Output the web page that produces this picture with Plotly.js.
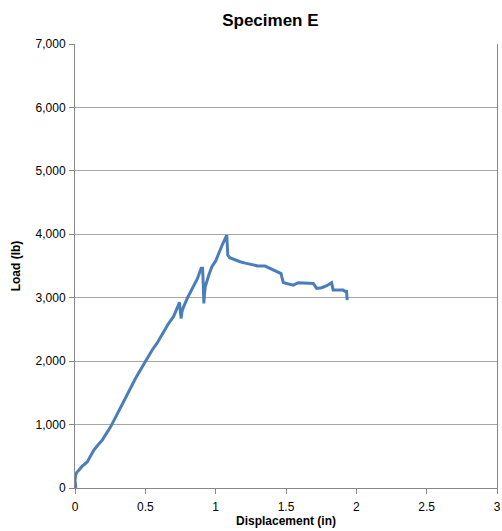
<!DOCTYPE html>
<html>
<head>
<meta charset="utf-8">
<script src="https://cdn.plot.ly/plotly-3.0.1.min.js"></script>
<style>html,body{margin:0;padding:0;background:#fff;}#chart{width:502px;height:531px;}</style>
</head>
<body>
<div id="chart"></div>
<script>
const displacement = [0.006,0.002,0.0,0.004,0.012,0.027,0.05,0.087,0.11,0.133,0.16,0.193,0.22,0.252,0.287,0.323,0.35,0.394,0.43,0.47,0.512,0.55,0.582,0.62,0.665,0.70,0.725,0.743,0.748,0.755,0.760,0.772,0.80,0.843,0.87,0.897,0.907,0.912,0.916,0.920,0.926,0.95,0.973,1.00,1.020,1.05,1.079,1.083,1.086,1.10,1.126,1.15,1.174,1.21,1.245,1.27,1.30,1.351,1.38,1.410,1.44,1.465,1.470,1.481,1.52,1.552,1.587,1.64,1.694,1.718,1.753,1.79,1.812,1.824,1.835,1.88,1.906,1.926,1.930,1.935];
const load = [0,43,121,200,245,279,340,410,500,595,670,753,850,960,1110,1265,1380,1580,1725,1880,2042,2180,2279,2420,2594,2700,2820,2926,2800,2673,2780,2857,3000,3199,3300,3463,3463,3200,2910,3050,3173,3350,3488,3580,3699,3850,3988,3800,3673,3630,3604,3585,3567,3545,3525,3510,3500,3499,3470,3436,3400,3380,3330,3241,3215,3199,3236,3225,3225,3147,3157,3190,3225,3236,3120,3120,3120,3094,3120,2962];
const xTicks = [0,0.5,1,1.5,2,2.5,3];
const yTicks = [0,1000,2000,3000,4000,5000,6000,7000];
const xTitle = 'Displacement (in)';

const trace = {
  x: displacement, y: load, type: 'scatter', mode: 'lines',
  line: {color: '#4A7EBB', width: 3}, hoverinfo: 'none'
};
const fam = 'Liberation Sans, Arial, sans-serif';
const layout = {
  width: 502, height: 531,
  margin: {l: 74.5, r: 5, t: 44, b: 43.3},
  paper_bgcolor: '#fff', plot_bgcolor: '#fff',
  showlegend: false,
  font: {family: fam, color: '#000', size: 12},
  title: {text: '<b>Specimen E</b>', font: {family: fam, size: 17, color: '#000'},
          x: 0.463, xref: 'paper', xanchor: 'center', y: 0.962, yref: 'container', yanchor: 'middle'},
  xaxis: {
    range: [0, 3], tickvals: xTicks, ticktext: xTicks.map(String),
    showgrid: false, zeroline: false, showline: true, linecolor: '#888', linewidth: 1,
    ticks: 'outside', ticklen: 5, tickcolor: '#888', ticklabelstandoff: 3,
    tickfont: {family: fam, size: 12, color: '#000'}
  },
  yaxis: {
    range: [0, 7000], tickvals: yTicks, tickformat: ',d',
    showgrid: true, gridcolor: '#a6a6a6', gridwidth: 1, zeroline: false,
    showline: true, mirror: true, linecolor: '#888', linewidth: 1,
    ticks: 'outside', ticklen: 5, tickcolor: '#888', ticklabelstandoff: 1,
    tickfont: {family: fam, size: 12, color: '#000'},
    title: {text: '<b>Load (lb)</b>', font: {family: fam, size: 12, color: '#000'}, standoff: 12}
  },
  annotations: [{
    text: '<b>' + xTitle + '</b>', xref: 'paper', yref: 'paper', x: 0.5, y: -0.0953,
    xanchor: 'center', yanchor: 'bottom', showarrow: false,
    font: {family: fam, size: 12, color: '#000'}
  }]
};
Plotly.newPlot('chart', [trace], layout, {staticPlot: true, displayModeBar: false});
</script>
</body>
</html>
